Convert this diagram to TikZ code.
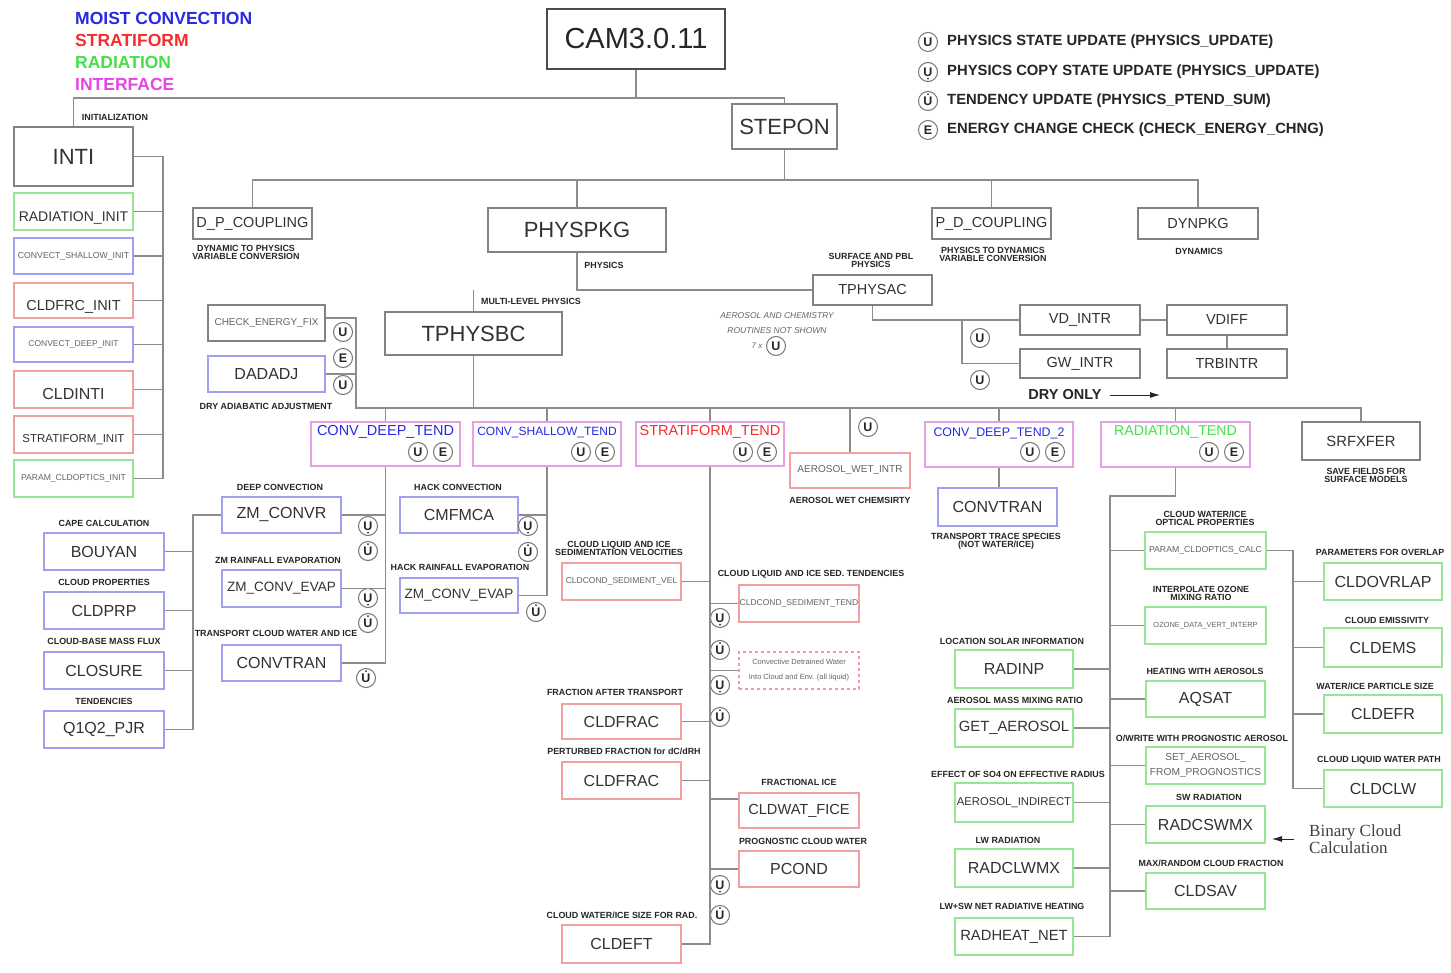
\documentclass[tikz,border=0pt]{standalone}
\usepackage{fontspec}
\setmainfont{Liberation Sans}
\newfontfamily\serifB{Liberation Serif}
\usetikzlibrary{arrows.meta,calc}
\definecolor{cBlue}{RGB}{40,40,230}
\definecolor{cRed}{RGB}{245,45,45}
\definecolor{cGreen}{RGB}{70,225,70}
\definecolor{cMag}{RGB}{230,70,230}
\definecolor{bBlue}{RGB}{160,160,240}
\definecolor{bRed}{RGB}{240,160,160}
\definecolor{bGreen}{RGB}{150,230,150}
\definecolor{bMag}{RGB}{230,160,230}
\definecolor{bPink}{RGB}{240,150,190}
\definecolor{bGray}{RGB}{130,130,130}
\definecolor{lnGray}{RGB}{140,140,140}
\definecolor{txt}{RGB}{50,50,50}
\definecolor{txtL}{RGB}{100,100,100}
\newcommand\B[7]{\node[#1, minimum width={(#5-#3)*1pt}, minimum height={(#6-#4)*1pt}] (#2) at ({(#3+#5)/2},{(#4+#6)/2}) {#7};}
\tikzset{
  ln/.style={draw=lnGray, line width=1.3pt},
  fs/.style={font=\fontsize{#1}{#1}\selectfont},
  bx/.style={draw=bGray, line width=1.2pt, inner sep=0pt, text=txt, fs=16},
  bb/.style={bx, draw=bBlue},
  br/.style={bx, draw=bRed},
  bg/.style={bx, draw=bGreen},
  bm/.style={bx, draw=bMag},
  lab/.style={font=\bfseries\fontsize{8.9}{8}\selectfont, align=center, inner sep=0pt, text=black!85},
  cu/.style={circle, draw=black!55, line width=1pt, minimum size=19pt, inner sep=0pt, fill=white,
     font=\bfseries\fontsize{12.5}{12.5}\selectfont, text=black!85},
  cud/.style={cu, path picture={\fill[black!85] ([yshift=-6.6pt]path picture bounding box.center) circle (1pt);}},
  cuo/.style={cu, path picture={\fill[black!85] ([yshift=6.8pt]path picture bounding box.center) circle (1pt);}},
  legtxt/.style={anchor=west, inner sep=0pt, font=\bfseries\fontsize{14.8}{14.8}\selectfont, text=black!85},
  legcol/.style={anchor=west, inner sep=0pt, font=\bfseries\fontsize{17.5}{17.5}\selectfont},
  arr/.style={draw=black!85, line width=0.9pt, -{Latex[length=10pt,width=6pt]}},
}
\begin{document}
\begin{tikzpicture}[x=1pt,y=-1pt]
\fill[white] (0,0) rectangle (1451,973);
\useasboundingbox (0,0) rectangle (1451,973);

% colour legend
\node[legcol, text=cBlue] (legMoist) at (75,18) {MOIST CONVECTION};
\node[legcol, text=cRed] (legStrat) at (75,40) {STRATIFORM};
\node[legcol, text=cGreen] (legRad) at (75,62) {RADIATION};
\node[legcol, text=cMag] (legInt) at (75,84) {INTERFACE};

% symbol legend
\node[cu] (lgU) at (928,42) {U};
\node[cud] (lgUc) at (928,72) {U};
\node[cuo] (lgUt) at (928,101) {U};
\node[cu] (lgE) at (928,130) {E};
\node[legtxt] (lgUtx) at (947,42) {PHYSICS STATE UPDATE (PHYSICS\_UPDATE)};
\node[legtxt] (lgUctx) at (947,72) {PHYSICS COPY STATE UPDATE (PHYSICS\_UPDATE)};
\node[legtxt] (lgUttx) at (947,101) {TENDENCY UPDATE (PHYSICS\_PTEND\_SUM)};
\node[legtxt] (lgEtx) at (947,130) {ENERGY CHANGE CHECK (CHECK\_ENERGY\_CHNG)};

% top level
\B{bx, draw=black!70, line width=1.8pt, fs=29, text=black!85}{cam}{547}{9}{725}{69}{CAM3.0.11}
\B{bx,fs=22}{stepon}{732}{104}{837}{149}{STEPON}
\B{bx,fs=22}{inti}{14}{127}{133}{186}{INTI}
\node[lab] (lInit) at (115,117) {INITIALIZATION};

% init column
\B{bg}{radinit}{14}{193}{133}{230}{}
\node[fs=14, text=txt] (radinitT) at (73.5,218) {RADIATION\_INIT};
\B{bb,fs=8.7,text=txtL}{cshinit}{14}{238}{133}{274}{CONVECT\_SHALLOW\_INIT}
\B{br}{cfrinit}{14}{283}{133}{318}{}
\node[fs=14.5, text=txt] (cfrinitT) at (73.5,307) {CLDFRC\_INIT};
\B{bb,fs=8.5,text=txtL}{cdpinit}{14}{327}{133}{362}{CONVECT\_DEEP\_INIT}
\B{br}{cldinti}{14}{371}{133}{408}{}
\node[fs=16, text=txt] (cldintiT) at (73.5,394) {CLDINTI};
\B{br}{stinit}{14}{416}{133}{453}{}
\node[fs=11.5, text=txt] (stinitT) at (73.5,440) {STRATIFORM\_INIT};
\B{bg,fs=8.6,text=txtL}{pcoinit}{14}{460}{133}{497}{PARAM\_CLDOPTICS\_INIT}

% stepon children
\B{bx,fs=14.5}{dpc}{193}{208}{312}{239}{D\_P\_COUPLING}
\node[lab] (lDyn) at (246,252) {DYNAMIC TO PHYSICS\\VARIABLE CONVERSION};
\B{bx,fs=22}{physpkg}{488}{208}{666}{252}{PHYSPKG}
\node[lab] (lPhys) at (604,265) {PHYSICS};
\B{bx,fs=14.5}{pdc}{932}{208}{1051}{239}{P\_D\_COUPLING}
\node[lab] (lPtoD) at (993,254) {PHYSICS TO DYNAMICS\\VARIABLE CONVERSION};
\B{bx,fs=14.5}{dynpkg}{1138}{208}{1258}{239}{DYNPKG}
\node[lab] (lDynamics) at (1199,251) {DYNAMICS};

% physpkg children
\B{bx,fs=22}{tphysbc}{385}{312}{562}{355}{TPHYSBC}
\node[lab] (lMulti) at (531,301) {MULTI-LEVEL PHYSICS};
\B{bx,fs=14.5}{tphysac}{813}{275}{932}{305}{TPHYSAC}
\node[lab] (lSurf) at (871,260) {SURFACE AND PBL\\PHYSICS};
\B{bx,fs=14.5}{vdintr}{1020}{305}{1140}{335}{VD\_INTR}
\B{bx,fs=14.5}{gwintr}{1020}{349}{1140}{378}{GW\_INTR}
\B{bx,fs=14.5}{vdiff}{1167}{305}{1287}{335}{VDIFF}
\B{bx,fs=14.5}{trbintr}{1167}{349}{1287}{378}{TRBINTR}
\node[cu] (uac1) at (980,338) {U};
\node[cu] (uac2) at (980,380) {U};
\node[align=center, inner sep=0pt, font=\itshape\fontsize{8.5}{15}\selectfont, text=txtL] (aernote) at (777,323.5) {AEROSOL AND CHEMISTRY\\ROUTINES NOT SHOWN};
\node[inner sep=0pt, font=\itshape\fontsize{8}{8}\selectfont, text=txtL] (sevenx) at (757,346) {7 x};
\node[cu] (u7x) at (776,346) {U};
\node[font=\bfseries\fontsize{14.5}{14.5}\selectfont, inner sep=0pt, text=black!85] (dryonly) at (1065,395) {DRY ONLY};
\coordinate (dryarr) at (1160,395);

% tphysbc children
\B{bx,fs=10,text=txtL}{cef}{208}{305}{325}{341}{CHECK\_ENERGY\_FIX}
\B{bb,fs=16}{dadadj}{208}{356}{325}{392}{DADADJ}
\node[lab] (lDryAd) at (266,406) {DRY ADIABATIC ADJUSTMENT};
\node[cu] (uc1) at (343,332) {U};
\node[cu] (ec1) at (343,358) {E};
\node[cu] (uc2) at (343,385) {U};

\B{bm}{cdt}{311}{422}{460}{466}{}
\node[fs=14.5, text=cBlue] (cdtT) at (385.5,432) {CONV\_DEEP\_TEND};
\node[cu] (ucdt) at (418,452) {U};
\node[cu] (ecdt) at (443,452) {E};
\B{bm}{cst}{473}{422}{621}{466}{}
\node[fs=12, text=cBlue] (cstT) at (547,433) {CONV\_SHALLOW\_TEND};
\node[cu] (ucst) at (581,452) {U};
\node[cu] (ecst) at (605,452) {E};
\B{bm}{stt}{636}{422}{784}{466}{}
\node[fs=14.5, text=cRed] (sttT) at (710,432) {STRATIFORM\_TEND};
\node[cu] (ustt) at (743,452) {U};
\node[cu] (estt) at (767,452) {E};
\B{br,fs=10,text=txtL}{aerowet}{790}{453}{910}{488}{AEROSOL\_WET\_INTR}
\node[lab] (lAeroWet) at (850,500) {AEROSOL WET CHEMSIRTY};
\node[cu] (uaer) at (868,427) {U};
\B{bm}{cdt2}{925}{422}{1073}{467}{}
\node[fs=12.4, text=cBlue] (cdt2T) at (999,433) {CONV\_DEEP\_TEND\_2};
\node[cu] (ucdt2) at (1030,452) {U};
\node[cu] (ecdt2) at (1055,452) {E};
\B{bm}{radt}{1101}{422}{1250}{467}{}
\node[fs=14.2, text=cGreen] (radtT) at (1175.5,432) {RADIATION\_TEND};
\node[cu] (uradt) at (1209,452) {U};
\node[cu] (eradt) at (1234,452) {E};
\B{bx,fs=14.8}{srfxfer}{1302}{422}{1420}{460}{SRFXFER}
\node[lab] (lSave) at (1366,475) {SAVE FIELDS FOR\\SURFACE MODELS};

% deep convection
\B{bb,fs=16}{zmconvr}{222}{497}{341}{533}{ZM\_CONVR}
\node[lab] (lDeep) at (280,487) {DEEP CONVECTION};
\B{bb,fs=13.5}{zmevap1}{222}{570}{341}{607}{ZM\_CONV\_EVAP}
\node[lab] (lZmRain) at (278,560) {ZM RAINFALL EVAPORATION};
\B{bb,fs=16}{convtran1}{222}{645}{341}{681}{CONVTRAN}
\node[lab] (lTransp) at (276,633) {TRANSPORT CLOUD WATER AND ICE};
\node[cud] (ud1) at (368,526) {U};
\node[cuo] (ud2) at (368,551) {U};
\node[cud] (ud3) at (368,598) {U};
\node[cuo] (ud4) at (368,623) {U};
\node[cuo] (ud5) at (366,678) {U};
\B{bb,fs=16}{bouyan}{44}{533}{164}{570}{BOUYAN}
\node[lab] (lCape) at (104,523) {CAPE CALCULATION};
\B{bb,fs=16}{cldprp}{44}{592}{164}{629}{CLDPRP}
\node[lab] (lCProp) at (104,582) {CLOUD PROPERTIES};
\B{bb,fs=16}{closure}{44}{652}{164}{689}{CLOSURE}
\node[lab] (lCBase) at (104,641) {CLOUD-BASE MASS FLUX};
\B{bb,fs=16}{q1q2}{44}{711}{164}{748}{Q1Q2\_PJR}
\node[lab] (lTend) at (104,701) {TENDENCIES};

% shallow convection
\B{bb,fs=16}{cmfmca}{400}{497}{518}{533}{CMFMCA}
\node[lab] (lHack) at (458,487) {HACK CONVECTION};
\B{bb,fs=13.5}{zmevap2}{400}{578}{518}{613}{ZM\_CONV\_EVAP}
\node[lab] (lHackRain) at (460,567) {HACK RAINFALL EVAPORATION};
\node[cud] (us1) at (528,526) {U};
\node[cuo] (us2) at (528,552) {U};
\node[cuo] (us3) at (536,612) {U};

% stratiform
\B{br,fs=8.5,text=txtL}{sedvel}{562}{563}{681}{600}{CLDCOND\_SEDIMENT\_VEL}
\node[lab] (lSedVel) at (619,548) {CLOUD LIQUID AND ICE\\SEDIMENTATION VELOCITIES};
\B{br,fs=8.5,text=txtL}{sedtend}{739}{585}{859}{622}{CLDCOND\_SEDIMENT\_TEND}
\node[lab] (lSedTend) at (811,574) {CLOUD LIQUID AND ICE SED. TENDENCIES};
\B{bx,draw=bPink,dashed,text=txtL,align=center,font=\fontsize{7.5}{15}\selectfont}{detr}{739}{652}{859}{689}{Convective Detrained Water\\Into Cloud and Env. (all liquid)}
\B{br,fs=16}{cldfrac1}{562}{704}{681}{739}{CLDFRAC}
\node[lab] (lFracT) at (615,692) {FRACTION AFTER TRANSPORT};
\B{br,fs=16}{cldfrac2}{562}{762}{681}{799}{CLDFRAC}
\node[lab] (lFracP) at (624,751) {PERTURBED FRACTION for dC/dRH};
\B{br,fs=14.6}{cldwat}{739}{793}{859}{828}{CLDWAT\_FICE}
\node[lab] (lFice) at (799,782) {FRACTIONAL ICE};
\B{br,fs=16}{pcond}{739}{851}{859}{887}{PCOND}
\node[lab] (lProg) at (803,841) {PROGNOSTIC CLOUD WATER};
\B{br,fs=16}{cldeft}{562}{925}{681}{963}{CLDEFT}
\node[lab] (lEft) at (622,915) {CLOUD WATER/ICE SIZE FOR RAD.};

% conv deep tend 2
\B{bb,fs=16}{convtran2}{938}{488}{1057}{526}{CONVTRAN}
\node[lab] (lTrace) at (996,541) {TRANSPORT TRACE SPECIES\\(NOT WATER/ICE)};

% radiation
\B{bg,fs=16}{radinp}{955}{650}{1073}{688}{RADINP}
\node[lab] (lSolar) at (1012,641) {LOCATION SOLAR INFORMATION};
\B{bg,fs=14.8}{getaer}{955}{709}{1073}{747}{GET\_AEROSOL}
\node[lab] (lAerMix) at (1015,700) {AEROSOL MASS MIXING RATIO};
\B{bg,fs=11.3}{aerind}{955}{783}{1073}{822}{AEROSOL\_INDIRECT}
\node[lab] (lSO4) at (1018,774) {EFFECT OF SO4 ON EFFECTIVE RADIUS};
\B{bg,fs=16}{radclw}{955}{849}{1073}{887}{RADCLWMX}
\node[lab] (lLW) at (1008,840) {LW RADIATION};
\B{bg,fs=14.8}{radheat}{955}{918}{1073}{955}{RADHEAT\_NET}
\node[lab] (lNet) at (1012,906) {LW+SW NET RADIATIVE HEATING};
\B{bg,fs=8.7,text=txtL}{pcocalc}{1145}{532}{1266}{569}{PARAM\_CLDOPTICS\_CALC}
\node[lab] (lOpt) at (1205,518) {CLOUD WATER/ICE\\OPTICAL PROPERTIES};
\B{bg,fs=7.4,text=txtL}{ozone}{1145}{607}{1266}{644}{OZONE\_DATA\_VERT\_INTERP}
\node[lab] (lOz) at (1201,593) {INTERPOLATE OZONE\\MIXING RATIO};
\B{bg,fs=16}{aqsat}{1146}{681}{1265}{717}{AQSAT}
\node[lab] (lHeat) at (1205,671) {HEATING WITH AEROSOLS};
\B{bg,text=txtL,align=center,font=\fontsize{10.2}{15}\selectfont}{setaer}{1146}{747}{1265}{784}{SET\_AEROSOL\_\\FROM\_PROGNOSTICS}
\node[lab] (lOwr) at (1202,738) {O/WRITE WITH PROGNOSTIC AEROSOL};
\B{bg,fs=16}{radcsw}{1146}{806}{1265}{843}{RADCSWMX}
\node[lab] (lSW) at (1209,797) {SW RADIATION};
\B{bg,fs=16}{cldsav}{1146}{873}{1265}{909}{CLDSAV}
\node[lab] (lMax) at (1211,863) {MAX/RANDOM CLOUD FRACTION};
\B{bg,fs=16}{cldovr}{1324}{563}{1442}{600}{CLDOVRLAP}
\node[lab] (lOvr) at (1380,552) {PARAMETERS FOR OVERLAP};
\B{bg,fs=16}{cldems}{1324}{628}{1442}{667}{CLDEMS}
\node[lab] (lEms) at (1387,620) {CLOUD EMISSIVITY};
\B{bg,fs=16}{cldefr}{1324}{695}{1442}{733}{CLDEFR}
\node[lab] (lEfr) at (1375,686) {WATER/ICE PARTICLE SIZE};
\B{bg,fs=16}{cldclw}{1324}{770}{1442}{807}{CLDCLW}
\node[lab] (lClw) at (1379,760) {CLOUD LIQUID WATER PATH};
\node[anchor=west, align=left, inner sep=0pt, text=black!75, font=\serifB\fontsize{17}{13.5}\selectfont] (bcc) at (1309,839) {Binary Cloud\\Calculation};
\coordinate (bcarr) at (1272,0);

% stratiform circles
\node[cud] (ut1) at (720,618) {U};
\node[cuo] (ut2) at (720,650) {U};
\node[cud] (ut3) at (720,685) {U};
\node[cuo] (ut4) at (720,717) {U};
\node[cud] (ut5) at (720,885) {U};
\node[cuo] (ut6) at (720,915) {U};

% ---------------- connectors ----------------
\coordinate (bus1) at (0,98);
\coordinate (bus2) at (0,180);
\coordinate (ib) at (163,0);
\coordinate (mb) at (0,408);
\coordinate (lv) at (356,0);
\coordinate (lb) at (193,0);
\coordinate (acx) at (962,0);
\coordinate (rv) at (1110,0);
\coordinate (rj) at (0,496);
\coordinate (cv) at (1293,0);
\coordinate (cldwatL) at ([yshift=11.5pt]cldwat.west);
\coordinate (cefR) at ([yshift=5pt]cef.east);

\draw[ln] (cam.south) -- (cam.south |- bus1);
\draw[ln] (inti.north) -- (inti.north |- bus1) -- (stepon.north |- bus1) -- (stepon.north);
\draw[ln] (stepon.south) -- (stepon.south |- bus2);
\draw[ln] (dpc.north) -- (dpc.north |- bus2) -- (dynpkg.north |- bus2) -- (dynpkg.north);
\draw[ln] (physpkg.north) -- (physpkg.north |- bus2);
\draw[ln] (pdc.north) -- (pdc.north |- bus2);
\draw[ln] (physpkg.south) -- (physpkg.south |- tphysac.west) -- (tphysac.west);
\draw[ln] (tphysbc.north) -- (tphysbc.north |- tphysac.west);

\draw[ln] (inti.east) -- (inti.east -| ib) -- (pcoinit.east -| ib) -- (pcoinit.east);
\foreach \n in {radinit,cshinit,cfrinit,cdpinit,cldinti,stinit} \draw[ln] (\n.east) -- (\n.east -| ib);

\draw[ln] (tphysac.south) -- (tphysac.south |- vdintr.west) -- (vdintr.west);
\draw[ln] (acx |- vdintr.west) -- (acx |- gwintr.west) -- (gwintr.west);
\draw[ln] (vdintr.east) -- (vdiff.west);
\draw[ln] (vdiff.south) -- (trbintr.north);
\draw[arr, shorten <=8pt] (dryonly.east) -- (dryonly.east -| dryarr);

\draw[ln] (cefR) -| (lv |- mb) -- (srfxfer.north |- mb) -- (srfxfer.north);
\draw[ln] (dadadj.east) -- (dadadj.east -| lv);
\draw[ln] (tphysbc.south) -- (tphysbc.south |- mb);
\foreach \n in {cdt,cst,stt,aerowet,cdt2,radt} \draw[ln] (\n.north) -- (\n.north |- mb);

\draw[ln] (cdt.south) -- (cdt.south |- convtran1.east) -- (convtran1.east);
\draw[ln] (zmconvr.east) -- (zmconvr.east -| cdt.south);
\draw[ln] (zmevap1.east) -- (zmevap1.east -| cdt.south);
\draw[ln] (zmconvr.west) -- (zmconvr.west -| lb) -- (q1q2.east -| lb) -- (q1q2.east);
\foreach \n in {bouyan,cldprp,closure} \draw[ln] (\n.east) -- (\n.east -| lb);

\draw[ln] (cst.south) -- (cst.south |- zmevap2.east) -- (zmevap2.east);
\draw[ln] (cmfmca.east) -- (cmfmca.east -| cst.south);

\draw[ln] (stt.south) -- (stt.south |- cldeft.east) -- (cldeft.east);
\foreach \n in {sedvel,cldfrac1,cldfrac2} \draw[ln] (\n.east) -- (\n.east -| stt.south);
\foreach \n in {sedtend,detr,pcond} \draw[ln] (\n.west) -- (\n.west -| stt.south);
\draw[ln] (cldwatL) -- (cldwatL -| stt.south);

\draw[ln] (cdt2.south) -- (cdt2.south |- convtran2.north);

\draw[ln] (radt.south) -- (radt.south |- rj) -- (rv |- rj) -- (rv |- radheat.east) -- (radheat.east);
\foreach \n in {radinp,getaer,aerind,radclw} \draw[ln] (\n.east) -- (\n.east -| rv);
\foreach \n in {pcocalc,ozone,aqsat,setaer,radcsw,cldsav} \draw[ln] (\n.west) -- (\n.west -| rv);
\draw[ln] (pcocalc.east) -- (pcocalc.east -| cv) -- (cv |- cldclw.west) -- (cldclw.west);
\foreach \n in {cldovr,cldems,cldefr} \draw[ln] (\n.west) -- (\n.west -| cv);
\draw[arr, shorten <=15pt] (bcc.west) -- (bcc.west -| bcarr);
\end{tikzpicture}
\end{document}
